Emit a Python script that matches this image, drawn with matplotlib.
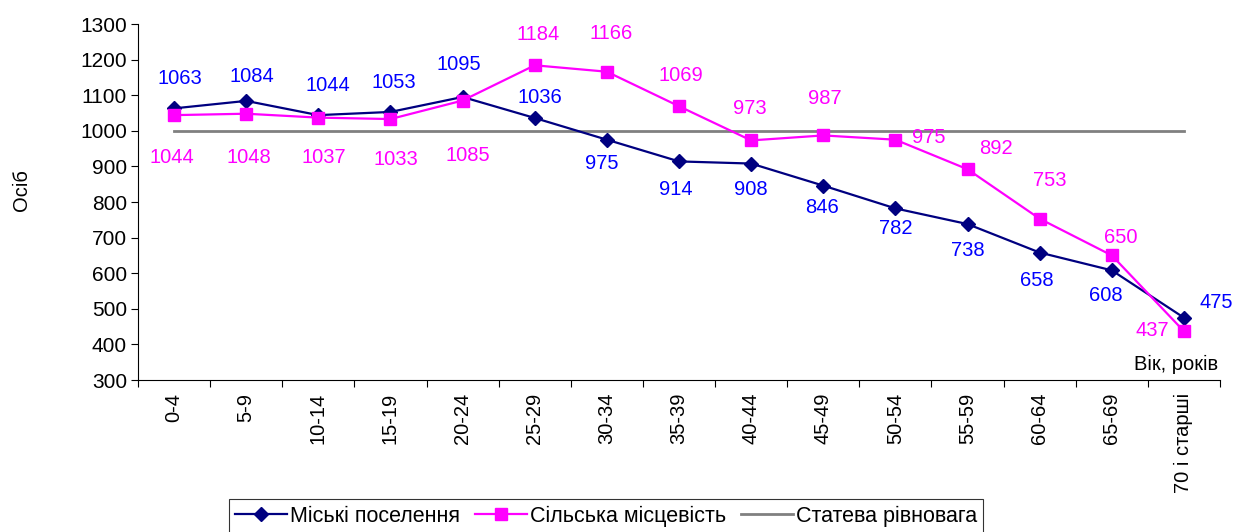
import numpy as np
import matplotlib.pyplot as plt
from matplotlib.ticker import FixedLocator, NullFormatter

plt.rcParams['font.family'] = ['Liberation Sans', 'DejaVu Sans']

# age groups
ages = ['0-4', '5-9', '10-14', '15-19', '20-24', '25-29', '30-34', '35-39',
        '40-44', '45-49', '50-54', '55-59', '60-64', '65-69', '70 і старші']
urban = [1063, 1084, 1044, 1053, 1095, 1036, 975, 914, 908, 846, 782, 738, 658, 608, 475]
rural = [1044, 1048, 1037, 1033, 1085, 1184, 1166, 1069, 973, 987, 975, 892, 753, 650, 437]
balance = [1000] * 15

# label offsets in pixels (dx, dy; dy positive = up)
urban_off = [(6, 30), (6, 24), (10, 30), (3, 29), (-4, 32), (5, 20), (-5, -24), (-3, -28),
             (0, -26), (-1, -22), (0, -20), (0, -26), (-3, -28), (-6, -25), (32, 15)]
rural_off = [(-2, -42), (3, -44), (5, -40), (5, -40), (5, -55), (3, 31), (4, 38), (2, 31),
             (-1, 32), (2, 37), (33, 2), (28, 21), (10, 38), (9, 18), (-32, 1)]

fig = plt.figure(figsize=(12.37, 5.32), dpi=100)
ax = fig.add_axes([138/1237, 1-380/532, (1220-138)/1237, (380-24)/532])

x = np.arange(len(ages))
ax.plot(x, balance, color='#808080', lw=2, label='Статева рівновага', zorder=2)
ax.plot(x, urban, color='#000080', lw=1.6, marker='D', ms=6.8, label='Міські поселення', zorder=3)
ax.plot(x, rural, color='#FF00FF', lw=1.6, marker='s', ms=8.5, label='Сільська місцевість', zorder=3)

for i in range(len(ages)):
    ax.annotate(str(urban[i]), (x[i], urban[i]), xytext=(urban_off[i][0]*0.72, urban_off[i][1]*0.72),
                textcoords='offset points', ha='center', va='center', color='#0000FF', fontsize=14.5)
    ax.annotate(str(rural[i]), (x[i], rural[i]), xytext=(rural_off[i][0]*0.72, rural_off[i][1]*0.72),
                textcoords='offset points', ha='center', va='center', color='#FF00FF', fontsize=14.5)

ax.set_xlim(-0.5, len(ages) - 0.5)
ax.set_ylim(300, 1300)
ax.set_yticks(np.arange(300, 1301, 100))
ax.tick_params(axis='y', labelsize=15, length=5, width=0.8, pad=3)

ax.set_xticks(x)
ax.set_xticklabels(ages, rotation=90, fontsize=14.5, va='top')
ax.tick_params(axis='x', which='major', length=0, pad=9)
ax.xaxis.set_minor_locator(FixedLocator(np.arange(-0.5, len(ages), 1)))
ax.xaxis.set_minor_formatter(NullFormatter())
ax.tick_params(axis='x', which='minor', length=5, width=0.8)

for s in ['top', 'right']:
    ax.spines[s].set_visible(False)
ax.spines['left'].set_linewidth(0.8)
ax.spines['bottom'].set_linewidth(0.8)

ax.text(0.9985, 0.045, 'Вік, років', transform=ax.transAxes, ha='right', va='center', fontsize=14.5)
fig.text(22/1237, 1-190/532, 'Осіб', rotation=90, ha='center', va='center', fontsize=14.5)

h, l = ax.get_legend_handles_labels()
order = [1, 2, 0]
leg = fig.legend([h[k] for k in order], [l[k] for k in order], loc='upper center',
                 bbox_to_anchor=(606/1237, 1-499/532), ncol=3, fontsize=15.5,
                 frameon=True, fancybox=False, edgecolor='black', borderpad=0.3,
                 handlelength=2.4, handletextpad=0.15, columnspacing=0.7, borderaxespad=0)
leg.get_frame().set_linewidth(0.8)

fig.savefig('out.png', dpi=100)
